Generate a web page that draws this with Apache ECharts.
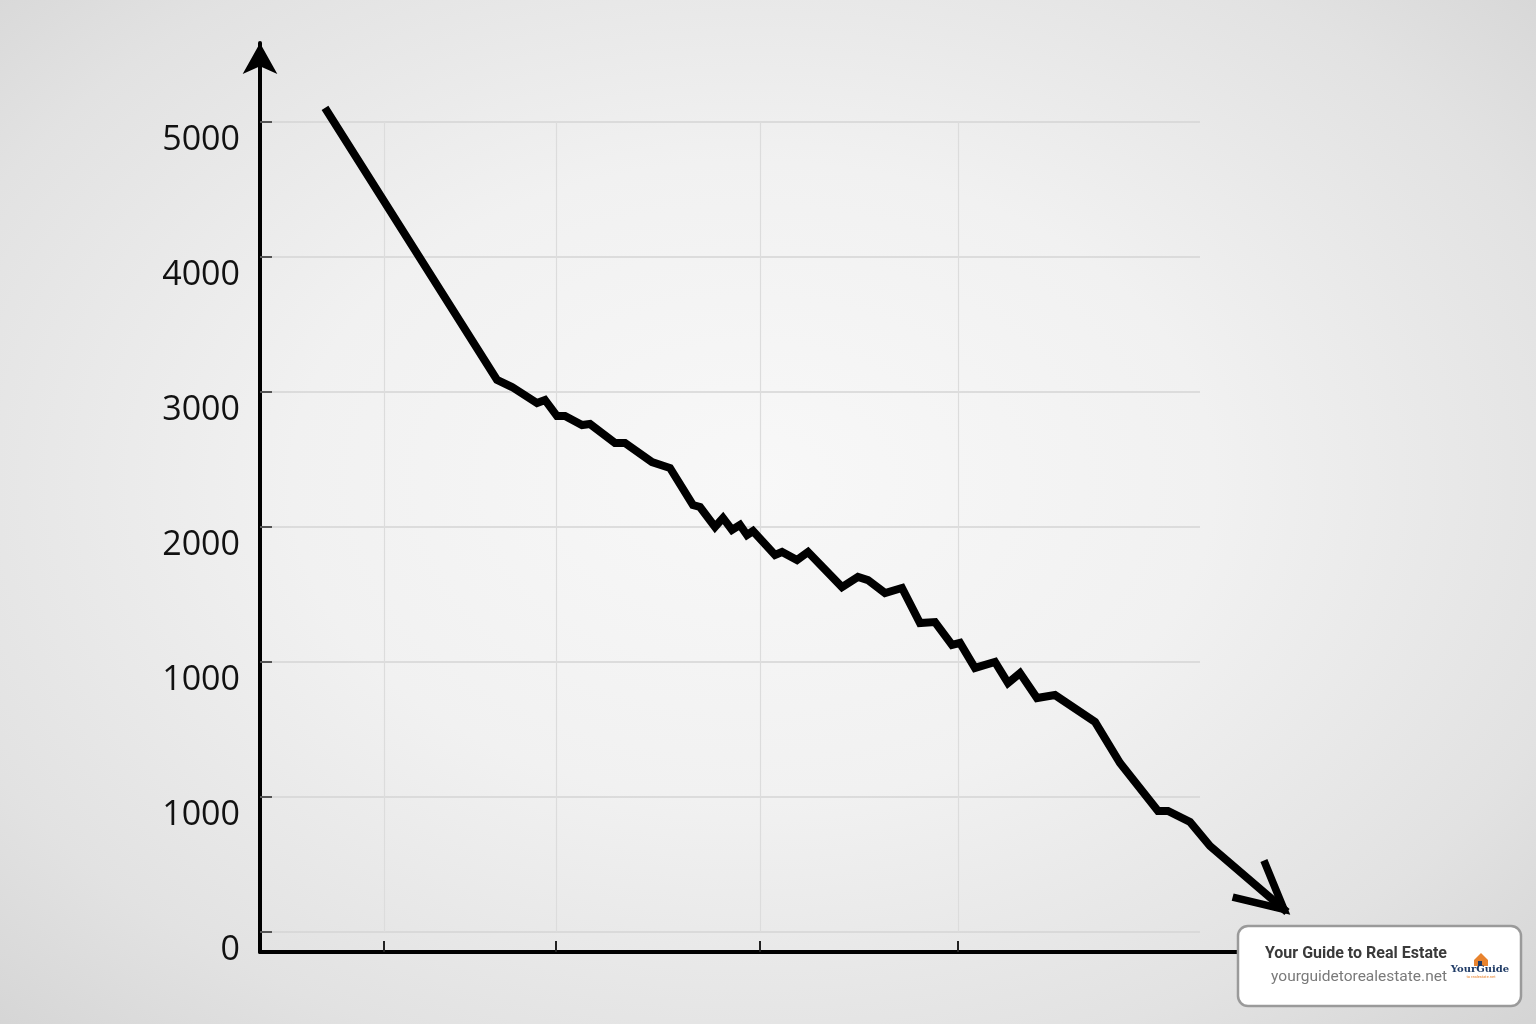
<!DOCTYPE html>
<html>
<head>
<meta charset="utf-8">
<script src="https://cdn.jsdelivr.net/npm/echarts@6/dist/echarts.min.js"></script>
<style>
html,body{margin:0;padding:0;width:1536px;height:1024px;overflow:hidden;}
body{background: radial-gradient(ellipse 75% 78% at 49% 47%, #f8f8f8 0%, #f1f1f1 40%, #e2e2e2 75%, #d2d2d2 100%);}
#main{width:1536px;height:1024px;}
</style>
</head>
<body>
<div id="main"></div>
<script>
// ---- data ----
const xValues = [6.5, 23.7, 25.2, 27.7, 28.5, 29.7, 30.5, 32.2, 33.0, 35.5, 36.5, 39.2, 41.0, 43.3, 44.0, 45.5, 46.3, 47.2, 48.0, 48.7, 49.3, 51.5, 52.2, 53.7, 54.8, 58.2, 59.8, 60.8, 62.5, 64.2, 66.0, 67.5, 69.2, 70.0, 71.5, 73.5, 74.8, 76.0, 77.7, 79.5, 83.5, 86.0, 89.8, 90.8, 93.0, 95.0, 102.7];
const yValues = [6104, 4089, 4037, 3918, 3941, 3822, 3822, 3755, 3763, 3622, 3622, 3481, 3437, 3163, 3148, 3000, 3067, 2978, 3015, 2941, 2970, 2793, 2815, 2755, 2815, 2555, 2630, 2607, 2511, 2548, 2289, 2296, 2126, 2141, 1956, 2000, 1844, 1918, 1733, 1755, 1556, 1252, 896, 896, 815, 637, 148];
const yTickLabels = ['0', '1000', '1000', '2000', '3000', '4000', '5000'];
const xGridValues = [12.4, 29.6, 50.0, 69.8];
const watermarkTitle = 'Your Guide to Real Estate';
const watermarkUrl = 'yourguidetorealestate.net';

const X_MAX = 103, Y_MAX = 6000, Y_STEP = 1000;
const CHEV_W = 47, CHEV_H = 48;
const chevronPath = 'path://M0,0 L47,24 L0,48';

function buildData(rot, off) {
  return xValues.map((x, i) => {
    if (i === xValues.length - 1) {
      return {
        value: [x, yValues[i]],
        symbol: chevronPath,
        symbolSize: [CHEV_W, CHEV_H],
        symbolRotate: rot,
        symbolOffset: off,
        itemStyle: { color: 'transparent', borderColor: '#000', borderWidth: 7.5, borderJoin: 'miter', borderCap: 'butt', opacity: 1 }
      };
    }
    return { value: [x, yValues[i]], symbol: 'none' };
  });
}

const chart = echarts.init(document.getElementById('main'), null, { renderer: 'canvas' });

const option = {
  backgroundColor: 'transparent',
  animation: false,
  grid: [
    { left: 260, right: 336, top: 122, bottom: 92 },   // grid lines + labels
    { left: 260, right: 246, top: 122, bottom: 92 },   // data
    { left: 260, right: 246, top: 43, bottom: 72 }     // axis frame
  ],
  xAxis: [
    { gridIndex: 0, type: 'value', min: 0, max: X_MAX, show: false },
    { gridIndex: 1, type: 'value', min: 0, max: X_MAX, show: false },
    { gridIndex: 2, type: 'value', min: 0, max: X_MAX,
      axisLine: { show: true, onZero: false, lineStyle: { color: '#000', width: 4 } },
      axisTick: { show: true, inside: true, length: 11, customValues: xGridValues, lineStyle: { color: '#222', width: 2 } },
      axisLabel: { show: false },
      splitLine: { show: false } }
  ],
  yAxis: [
    { gridIndex: 0, type: 'value', min: 0, max: Y_MAX, interval: Y_STEP,
      axisLine: { show: false },
      axisTick: { show: true, inside: true, length: 12, lineStyle: { color: '#555', width: 2 } },
      axisLabel: {
        show: true, margin: 20, color: '#111', fontSize: 34, fontFamily: 'Open Sans',
        verticalAlign: 'top', lineHeight: 36,
        formatter: v => yTickLabels[Math.round(v / Y_STEP)]
      },
      splitLine: { show: true, lineStyle: { color: '#d4d4d4', width: 1.5 } } },
    { gridIndex: 1, type: 'value', min: 0, max: Y_MAX, show: false },
    { gridIndex: 2, type: 'value', min: 0, max: 1,
      axisLine: { show: true, onZero: false, symbol: ['none', 'arrow'], symbolSize: [26, 31], lineStyle: { color: '#000', width: 4 } },
      axisTick: { show: false }, axisLabel: { show: false }, splitLine: { show: false } }
  ],
  series: [
    {
      id: 'grid-v', type: 'line', xAxisIndex: 1, yAxisIndex: 1, data: [], silent: true, z: 1,
      markLine: {
        silent: true, symbol: ['none', 'none'], label: { show: false }, z: 1,
        lineStyle: { color: '#dcdcdc', width: 1.2, type: 'solid' },
        emphasis: { disabled: true },
        data: xGridValues.map(v => ({ xAxis: v }))
      }
    },
    {
      id: 'line', type: 'line', xAxisIndex: 1, yAxisIndex: 1, z: 5,
      clip: false, showSymbol: true, symbol: 'none',
      lineStyle: { color: '#000', width: 8, join: 'miter', cap: 'butt' },
      itemStyle: { color: '#000' },
      emphasis: { disabled: true },
      data: buildData(0, [0, 0])
    }
  ],
  graphic: [
    { type: 'rect', z: 100, shape: { x: 1238, y: 926, width: 283, height: 80, r: 10 },
      style: { fill: '#ffffff', stroke: '#9a9a9a', lineWidth: 2.5 } },
    { type: 'text', z: 101, x: 1447, y: 954,
      style: { text: watermarkTitle, fill: '#3a3a3a', font: 'bold 16px Roboto', align: 'right', verticalAlign: 'middle' } },
    { type: 'text', z: 101, x: 1447, y: 977,
      style: { text: watermarkUrl, fill: '#7a7a7a', font: '15.5px Roboto', align: 'right', verticalAlign: 'middle' } },
    { type: 'polygon', z: 101, shape: { points: [[1474, 960], [1481, 953], [1488, 960], [1488, 966], [1474, 966]] },
      style: { fill: '#e8832e' } },
    { type: 'rect', z: 102, shape: { x: 1478, y: 961, width: 4, height: 5 }, style: { fill: '#1f3b66' } },
    { type: 'text', z: 101, x: 1480, y: 969,
      style: { text: 'YourGuide', fill: '#1f3b66', font: 'bold 10px "DejaVu Serif"', align: 'center', verticalAlign: 'middle' } },
    { type: 'text', z: 101, x: 1481, y: 977,
      style: { text: 'to realestate.net', fill: '#e8832e', font: '4px Roboto', align: 'center', verticalAlign: 'middle' } }
  ]
};

chart.setOption(option);

// orient the arrowhead along the last segment
const n = xValues.length;
const pA = chart.convertToPixel({ seriesId: 'line' }, [xValues[n - 2], yValues[n - 2]]);
const pB = chart.convertToPixel({ seriesId: 'line' }, [xValues[n - 1], yValues[n - 1]]);
const theta = Math.atan2(pB[1] - pA[1], pB[0] - pA[0]);
const back = CHEV_W / 2 + 4;
chart.setOption({
  series: [{ id: 'line', data: buildData(-theta * 180 / Math.PI, [-back * Math.cos(theta), -back * Math.sin(theta)]) }]
});
</script>
</body>
</html>
